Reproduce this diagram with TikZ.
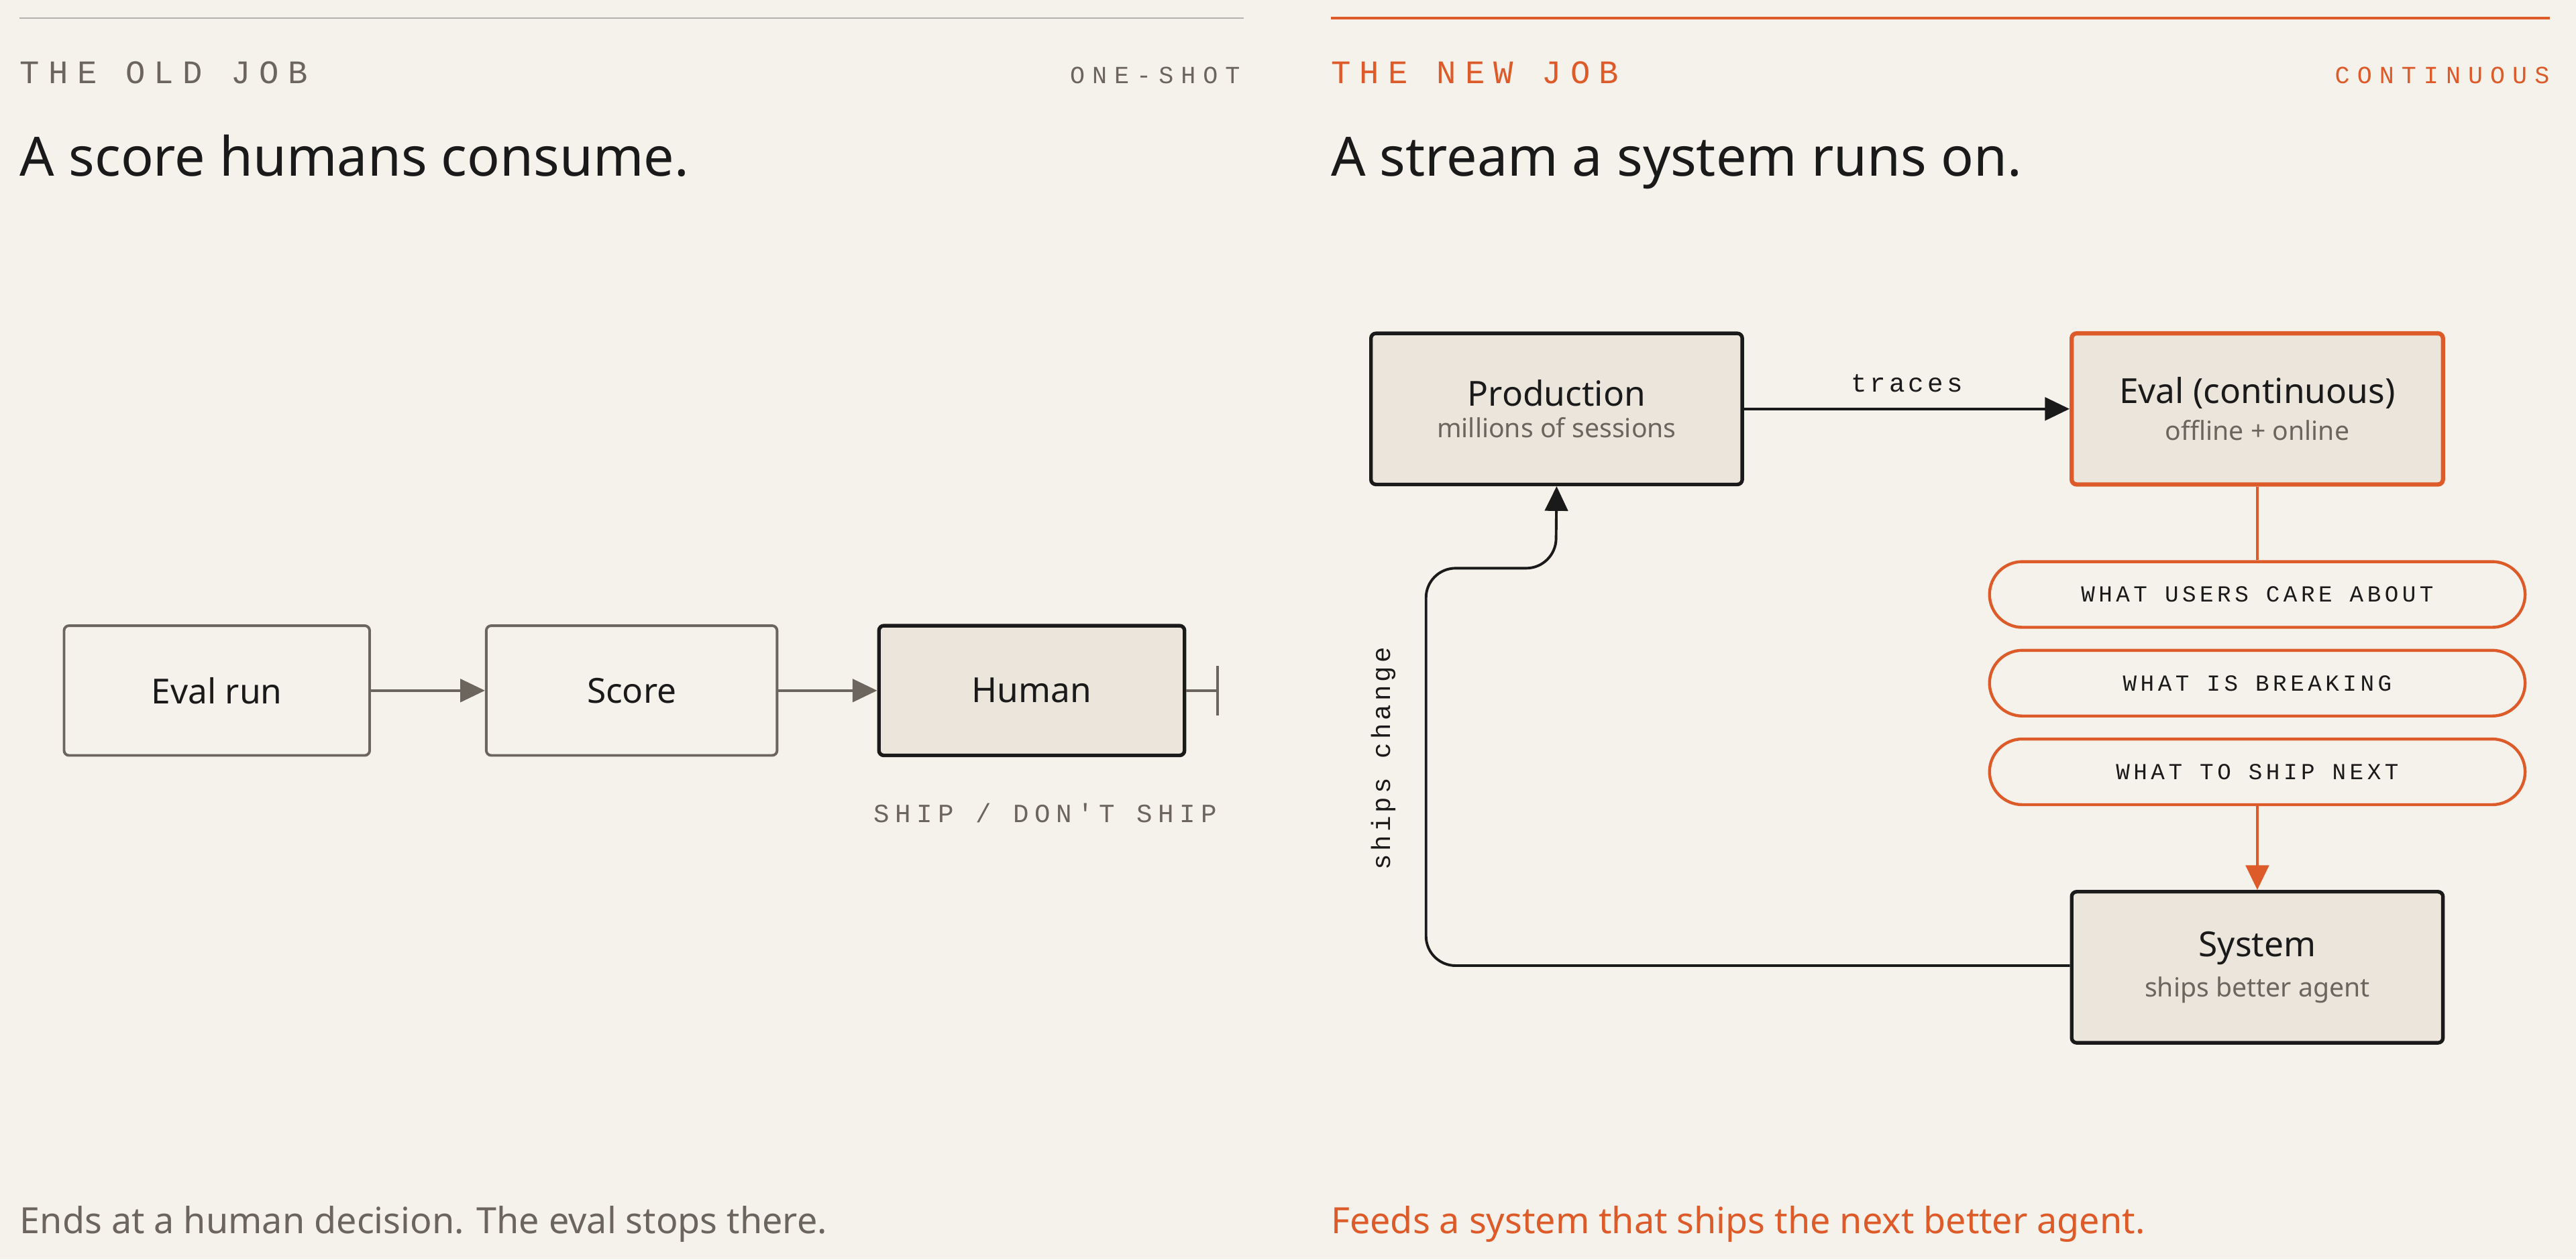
\documentclass[tikz,border=0pt]{standalone}
\usepackage{fontspec}
\setmainfont{Noto Sans}
\newfontfamily\monof{Liberation Mono}
\usetikzlibrary{arrows.meta}
\definecolor{bg}{HTML}{F5F1EB}
\definecolor{org}{HTML}{DD5A29}
\definecolor{ink}{HTML}{1A1A1A}
\definecolor{gry}{HTML}{6B655E}
\definecolor{fillb}{HTML}{EBE5DC}
\newcommand{\mono}[2]{{\monof\addfontfeature{LetterSpace=#1}#2}}
\begin{document}
\begin{tikzpicture}[x=1pt,y=-1pt,
  oldbox/.style={draw=gry,line width=1.6pt,rounded corners=3pt,fill=bg,font=\fontsize{21}{24}\selectfont\bfseries,text=ink},
  dkbox/.style={draw=ink,line width=2.2pt,rounded corners=3pt,fill=fillb,align=center,text=ink},
  pill/.style={draw=org,line width=1.8pt,rounded corners=20pt,fill=bg,minimum width=326pt,minimum height=40pt,font=\monof\fontsize{14}{16}\selectfont\addfontfeature{LetterSpace=16},text=ink},
  garr/.style={draw=gry,line width=1.6pt,-{Triangle[length=15pt,width=14pt]}},
  darr/.style={draw=ink,line width=1.8pt,-{Triangle[length=15pt,width=14pt]}},
  oarr/.style={draw=org,line width=1.8pt,-{Triangle[length=15pt,width=14pt]}}]
\fill[bg] (0,0) rectangle (1568,767);
\useasboundingbox (0,0) rectangle (1568,767);
% left header
\draw[gry!50,line width=0.8pt] (12,11) -- (757,11);
\node[anchor=base west,inner sep=0,text=gry,font=\fontsize{20}{22}\selectfont] (h1) at (12,51) {\mono{27}{THE OLD JOB}};
\node[anchor=base east,inner sep=0,text=gry,font=\fontsize{15}{17}\selectfont] (h2) at (755,51) {\mono{30}{ONE-SHOT}};
\node[anchor=base west,inner sep=0,text=ink,font=\fontsize{33}{36}\selectfont\bfseries] (t1) at (12,107) {A score humans consume.};
% left flow
\node[oldbox,minimum width=186pt,minimum height=79pt] (er) at (132,420.5) {Eval run};
\node[oldbox,minimum width=177pt,minimum height=79pt] (sc) at (384.5,420.5) {Score};
\node[dkbox,minimum width=186pt,minimum height=79pt,font=\fontsize{21}{24}\selectfont\bfseries] (hu) at (628,420.5) {Human};
\draw[garr] (er) -- (sc);
\draw[garr] (sc) -- (hu);
\coordinate (stop) at (742,420.5);
\draw[gry,line width=1.6pt,-{Bar[width=30pt]}] (hu) -- (stop);
\node[anchor=base east,inner sep=0,text=gry,font=\fontsize{16}{18}\selectfont] (sd) at (741,501) {\mono{22}{SHIP / DON'T SHIP}};
\node[anchor=base west,inner sep=0,text=gry,font=\fontsize{22}{24}\selectfont] (b1) at (12,751) {Ends at a human decision. The eval stops there.};
% right header
\draw[org,line width=1.4pt] (810,11) -- (1552,11);
\node[anchor=base west,inner sep=0,text=org,font=\fontsize{20}{22}\selectfont] (h3) at (810,51) {\mono{27}{THE NEW JOB}};
\node[anchor=base east,inner sep=0,text=org,font=\fontsize{15}{17}\selectfont] (h4) at (1552,51) {\mono{30}{CONTINUOUS}};
\node[anchor=base west,inner sep=0,text=ink,font=\fontsize{33}{36}\selectfont\bfseries] (t2) at (810,107) {A stream a system runs on.};
% right flow
\node[dkbox,minimum width=226pt,minimum height=92pt] (pr) at (947.5,249) {{\fontsize{21}{24}\selectfont\bfseries Production}\\[6pt]{\fontsize{16}{18}\selectfont\color{gry}millions of sessions}};
\node[dkbox,draw=org,line width=2.6pt,minimum width=226pt,minimum height=92pt] (ev) at (1374,249) {{\fontsize{21}{24}\selectfont\bfseries Eval (continuous)}\\[6pt]{\fontsize{16}{18}\selectfont\color{gry}offline + online}};
\node[dkbox,minimum width=226pt,minimum height=92pt] (sy) at (1374,589) {{\fontsize{21}{24}\selectfont\bfseries System}\\[6pt]{\fontsize{16}{18}\selectfont\color{gry}ships better agent}};
\draw[darr] (pr) -- node[above=6pt,text=ink,font=\fontsize{16}{18}\selectfont]{\mono{13}{traces}} (ev);
\node[pill] (p1) at (1374,362) {WHAT USERS CARE ABOUT};
\node[pill] (p2) at (1374,416) {WHAT IS BREAKING};
\node[pill] (p3) at (1374,470) {WHAT TO SHIP NEXT};
\draw[org,line width=1.8pt] (ev) -- (p1);
\draw[oarr] (p3) -- (sy);
\coordinate (c1) at (868,588);
\coordinate (c2) at (868,346);
\coordinate (c3) at (947,346);
\draw[darr,line width=1.6pt,rounded corners=18pt] (sy.west |- c1) -- (c1) -- (c2) -- (c3) -- (pr.south);
\node[rotate=90,text=ink,font=\fontsize{16}{18}\selectfont,inner sep=0] (lbl) at (842,462) {\mono{13}{ships change}};
\node[anchor=base west,inner sep=0,text=org,font=\fontsize{22}{24}\selectfont\bfseries] (b2) at (810,751) {Feeds a system that ships the next better agent.};
\end{tikzpicture}
\end{document}
